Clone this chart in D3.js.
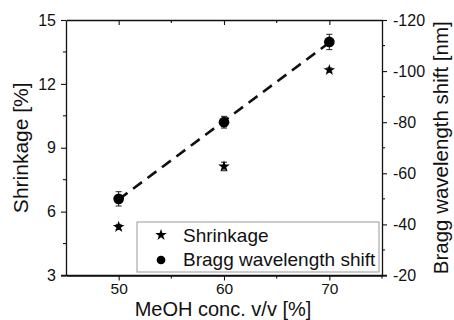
<!DOCTYPE html>
<html>
<head>
<meta charset="utf-8">
<script src="https://cdn.jsdelivr.net/npm/d3@7"></script>
<style>
  body { margin: 0; background: #fff; }
  text { font-family: "Liberation Sans", Arial, sans-serif; fill: #111; }
</style>
</head>
<body>
<div class="chart"></div>
<script>
const conc = [50, 60, 70];
const shrinkage = [5.28, 8.12, 12.65];
const shrinkErr = [0.12, 0.2, 0.1];
const bragg = [-50, -80, -111.4];
const braggErr = [2.8, 2.3, 3.0];

const xTicks = [50, 60, 70];
const yLeftTicks = [3, 6, 9, 12, 15];
const yRightTicks = [-20, -40, -60, -80, -100, -120];

const W = 454, H = 320;
const L = 66, R = 382, T = 20, B = 275.5;

const svg = d3.select(".chart").append("svg")
  .attr("width", W).attr("height", H);

const x = d3.scaleLinear().domain([45, 75]).range([L, R]);
const yL = d3.scaleLinear().domain([3, 15]).range([B, T]);
const yR = d3.scaleLinear().domain([-20, -120]).range([B, T]);

function styleAxis(g) {
  g.selectAll("path").attr("stroke", "#111").attr("stroke-width", 1.3);
  g.selectAll("line").attr("stroke", "#111").attr("stroke-width", 1.1);
  g.selectAll("text").attr("font-size", 16).attr("fill", "#111")
    .style("font-family", "Liberation Sans, Arial, sans-serif");
}

// minor ticks
function minor(g, ticks, pos, len, horizontal) {
  g.selectAll(null).data(ticks).enter().append("line")
    .attr("stroke", "#111").attr("stroke-width", 1.1)
    .attr(horizontal ? "x1" : "y1", d => pos(d))
    .attr(horizontal ? "x2" : "y2", d => pos(d))
    .attr(horizontal ? "y1" : "x1", 0)
    .attr(horizontal ? "y2" : "x2", len);
}

// bottom axis
const gB = svg.append("g").attr("transform", `translate(0,${B})`)
  .call(d3.axisBottom(x).tickValues(xTicks).tickSize(5).tickSizeOuter(0).tickPadding(2));
styleAxis(gB);
gB.selectAll("text").attr("font-size", 15.5);
minor(gB, [55, 65, 75], x, 3, true);
gB.append("line").attr("x1", L - 5).attr("x2", R + 5).attr("stroke", "#111").attr("stroke-width", 1.3);

// top axis, ticks inward
const gT = svg.append("g").attr("transform", `translate(0,${T})`)
  .call(d3.axisTop(x).tickValues(xTicks).tickSize(-5).tickSizeOuter(0).tickFormat(""));
styleAxis(gT);
minor(gT, [55, 65], x, 3, true);

// left axis
const gL = svg.append("g").attr("transform", `translate(${L},0)`)
  .call(d3.axisLeft(yL).tickValues(yLeftTicks).tickSize(5).tickSizeOuter(0).tickPadding(5));
styleAxis(gL);
minor(gL, [4.5, 7.5, 10.5, 13.5], yL, -3, false);

// right axis
const gR = svg.append("g").attr("transform", `translate(${R},0)`)
  .call(d3.axisRight(yR).tickValues(yRightTicks).tickSize(5).tickSizeOuter(0).tickPadding(6)
    .tickFormat(d => "-" + Math.abs(d)));
styleAxis(gR);
minor(gR, [-30, -50, -70, -90, -110], yR, 3, false);

// linear fit of Bragg data
const mx = d3.mean(conc), my = d3.mean(bragg);
const slope = d3.sum(conc, (c, i) => (c - mx) * (bragg[i] - my)) / d3.sum(conc, c => (c - mx) ** 2);
const icpt = my - slope * mx;
svg.append("line")
  .attr("x1", x(50)).attr("y1", yR(icpt + slope * 50))
  .attr("x2", x(70)).attr("y2", yR(icpt + slope * 70))
  .attr("stroke", "#111").attr("stroke-width", 2.6)
  .attr("stroke-dasharray", "11,7");

// error bars
function errBars(vals, errs, y) {
  const g = svg.append("g").attr("stroke", "#222").attr("stroke-width", 1);
  conc.forEach((c, i) => {
    const cx = x(c), y1 = y(vals[i] - errs[i]), y2 = y(vals[i] + errs[i]);
    g.append("line").attr("x1", cx).attr("x2", cx).attr("y1", y1).attr("y2", y2);
    g.append("line").attr("x1", cx - 3).attr("x2", cx + 3).attr("y1", y1).attr("y2", y1);
    g.append("line").attr("x1", cx - 3).attr("x2", cx + 3).attr("y1", y2).attr("y2", y2);
  });
}
errBars(shrinkage, shrinkErr, yL);
errBars(bragg, braggErr, yR);

const star = d3.symbol().type(d3.symbolStar).size(42);
const dot = d3.symbol().type(d3.symbolCircle).size(90);

svg.selectAll(".star").data(conc).enter().append("path")
  .attr("transform", (d, i) => `translate(${x(d)},${yL(shrinkage[i])})`)
  .attr("d", star).attr("fill", "#000");

svg.selectAll(".dot").data(conc).enter().append("path")
  .attr("transform", (d, i) => `translate(${x(d)},${yR(bragg[i])})`)
  .attr("d", dot).attr("fill", "#000");

// legend
const lg = svg.append("g");
lg.append("rect").attr("x", 137).attr("y", 222).attr("width", 242).attr("height", 50)
  .attr("fill", "#fff").attr("stroke", "#999").attr("stroke-width", 1);
lg.append("path").attr("transform", "translate(161,235)").attr("d", star).attr("fill", "#000");
lg.append("path").attr("transform", "translate(161,260)").attr("d", d3.symbol().type(d3.symbolCircle).size(60)).attr("fill", "#000");
lg.append("text").attr("x", 183).attr("y", 242).attr("font-size", 19).text("Shrinkage");
lg.append("text").attr("x", 183).attr("y", 266).attr("font-size", 19).text("Bragg wavelength shift");

// axis titles
svg.append("text").attr("x", 223).attr("y", 316).attr("text-anchor", "middle")
  .attr("font-size", 20).text("MeOH conc. v/v [%]");
svg.append("text").attr("transform", `translate(28,${(T + B) / 2}) rotate(-90)`)
  .attr("text-anchor", "middle").attr("font-size", 21).text("Shrinkage [%]");
svg.append("text").attr("transform", `translate(448,${(T + B) / 2}) rotate(-90)`)
  .attr("text-anchor", "middle").attr("font-size", 20.5).text("Bragg wavelength shift [nm]");
</script>
</body>
</html>
